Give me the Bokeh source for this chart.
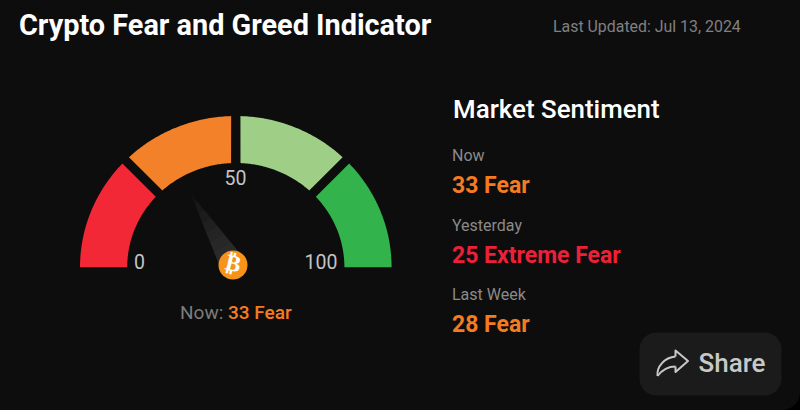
import numpy as np
from bokeh.plotting import figure
from bokeh.embed import file_html
from bokeh.resources import INLINE
from bokeh.core.properties import value

# ---- data ----
segment_stops = [0, 25, 50, 75, 100]
segment_colors = ["#f32837", "#f2812a", "#9fcf86", "#32b34b"]
current_value = 33
gauge_ticks = [0, 50, 100]
gauge_tick_labels = ["0", "50", "100"]
title_text = "Crypto Fear and Greed Indicator"
updated_text = "Last Updated: Jul 13, 2024"
panel_title = "Market Sentiment"
period_labels = ["Now", "Yesterday", "Last Week"]
period_values = ["33 Fear", "25 Extreme Fear", "28 Fear"]
period_colors = ["#f47b20", "#ec2139", "#f47b20"]

BG = "#0d0d0d"
cx, cy = 235.3, 266.8
RX, RY = 155.8, 151.3
rx, ry = 108.6, 104.3
GAP = 9.0

p = figure(width=784, height=394, x_range=(8, 792), y_range=(402, 8),
           output_backend="svg", toolbar_location=None, min_border=0,
           outline_line_color=None, background_fill_color=BG, border_fill_color=BG)
p.axis.visible = False
p.grid.visible = False

def ang(v):
    return np.pi * (1 - v / 100)

def pt(a, R1, R2):
    return cx + R1 * np.cos(a), cy - R2 * np.sin(a)

# gauge segments with parallel gaps
for i, col in enumerate(segment_colors):
    a0, a1 = ang(segment_stops[i]), ang(segment_stops[i + 1])
    d_out = np.arcsin(GAP / 2 / RY)
    d_in = np.arcsin(GAP / 2 / ry)
    a0o = a0 - (d_out if i > 0 else 0)
    a0i = a0 - (d_in if i > 0 else 0)
    a1o = a1 + (d_out if i < len(segment_colors) - 1 else 0)
    a1i = a1 + (d_in if i < len(segment_colors) - 1 else 0)
    to = np.linspace(a0o, a1o, 60)
    ti = np.linspace(a1i, a0i, 60)
    xo, yo = pt(to, RX, RY)
    xi, yi = pt(ti, rx, ry)
    p.patch(np.r_[xo, xi], np.r_[yo, yi], fill_color=col, line_color=None)

# needle, fading to the tip
hub_x, hub_y = 232.5, 264.6
a = ang(current_value)
L = 83.0
HALF = 13.0
shades = ["#141414", "#181818", "#1c1c1c", "#202020", "#242424", "#272727", "#2a2a2a", "#2c2c2c"]
n = len(shades)
ux, uy = np.cos(a) * 1.0, -np.sin(a)
nx, ny = -uy, ux
for k, sh in enumerate(shades):
    f0 = 1 - k / n
    f1 = 1 - (k + 1.05) / n
    px = [hub_x + ux * L * f0 + s * nx * HALF * (1 - f0) for s in (-1, 1)] + \
         [hub_x + ux * L * f1 + s * nx * HALF * (1 - f1) for s in (1, -1)]
    py = [hub_y + uy * L * f0 + s * ny * HALF * (1 - f0) for s in (-1, 1)] + \
         [hub_y + uy * L * f1 + s * ny * HALF * (1 - f1) for s in (1, -1)]
    p.patch(px, py, fill_color=sh, line_color=None)

# hub with bitcoin logo
p.scatter([hub_x], [hub_y], size=29, marker="circle", fill_color="#f7931a", line_color=None)
p.text([hub_x + 0.3], [hub_y - 2], text=["₿"], angle=[-0.24], text_align="center",
       text_baseline="alphabetic", text_font=value("DejaVu Sans"), text_font_style="bold",
       text_font_size="23px", text_color="#ffffff")

def label(x, y, s, size, color, font="Roboto", style="normal", align="left"):
    p.text([x - 1 if align == "left" else x], [y - 0.4 * size], text=[s], text_font=value(font),
           text_font_style=style, text_font_size=f"{size}px", text_color=color,
           text_align=align, text_baseline="alphabetic")

# header
label(19.5, 36, title_text, 28.85, "#ffffff", style="bold")
label(553.5, 32, updated_text, 15.9, "#808080")

# gauge ticks
tick_x = [139, 235, 320.5]
tick_y = [269, 185, 269]
for x, y, t in zip(tick_x, tick_y, gauge_tick_labels):
    label(x, y, t, 19.5, "#c4c4c4", align="center")

label(180.5, 320, "Now: ", 19, "#7c7c7c")
label(228.5, 320, f"{current_value} Fear", 19, "#f47b20", font="Roboto Medium")

# right panel
label(453.5, 119, panel_title, 25.9, "#ffffff", font="Roboto Medium")
lab_y = [161, 231, 300]
val_y = [194.5, 264, 333]
for s, v, c, ly, vy in zip(period_labels, period_values, period_colors, lab_y, val_y):
    label(452.5, ly, s, 16, "#8a8a8a")
    label(452.5, vy, v, 23, c, style="bold")

# share button
x0, x1, y0, y1, r = 639, 781, 332, 395, 17
th = np.linspace(0, np.pi / 2, 16)
bx = np.r_[x1 - r + r * np.cos(th), x0 + r - r * np.sin(th), x0 + r - r * np.cos(th), x1 - r + r * np.sin(th)]
by = np.r_[y0 + r - r * np.sin(th), y0 + r - r * np.cos(th), y1 - r + r * np.sin(th), y1 - r + r * np.cos(th)]
p.patch(bx, by, fill_color="#1b1b1b", line_color=None)

p.bezier(x0=[675], y0=[356], x1=[657], y1=[375.5], cx0=[664], cy0=[357], cx1=[656], cy1=[366],
         line_color="#c8c8c8", line_width=2)
p.bezier(x0=[657], y0=[375.5], x1=[675], y1=[366], cx0=[662], cy0=[369], cx1=[668], cy1=[366],
         line_color="#c8c8c8", line_width=2)
p.line([675, 675, 687.5, 675, 675], [356, 350, 360.5, 371.5, 366],
       line_color="#c8c8c8", line_width=2, line_join="round")
label(699, 373, "Share", 26, "#c8c8c8", font="Roboto Medium")

html = file_html(p, INLINE)
css = ("<style>html{background:#000}"
       "body{margin:0;padding:8px;box-sizing:border-box;width:800px;height:410px;background:#0d0d0d;"
       "border-bottom-right-radius:18px;overflow:hidden}</style>")
html = html.replace("</head>", css + "</head>", 1)
open("out.html", "w").write(html)
